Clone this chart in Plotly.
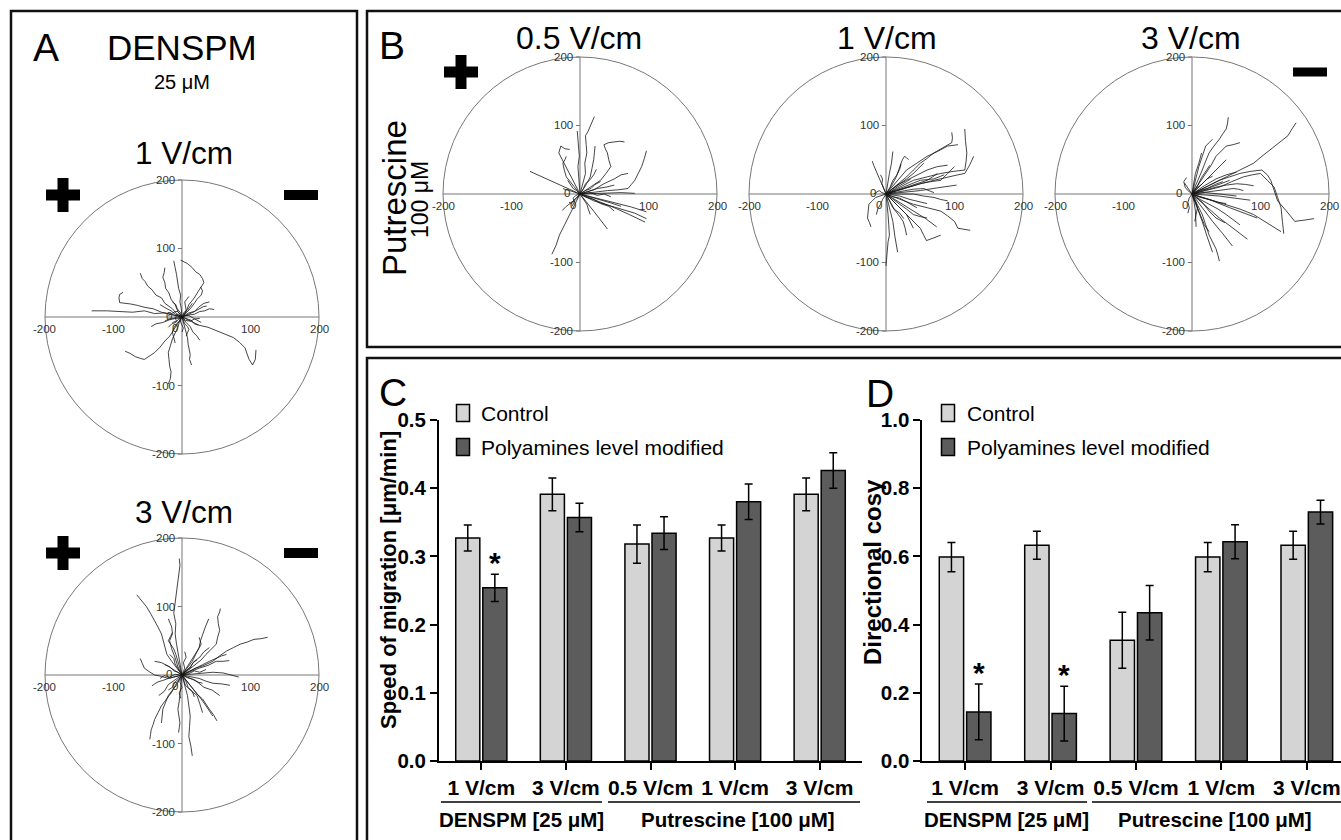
import plotly.graph_objects as go

W, H = 1341, 840

# ---------------- data ----------------
# Cell trajectories (µm), each a list of (x, y) points starting at the origin
A1_tracks = [
    [(0, 0), (-12, 3), (-25, 6), (-40, 5), (-55, 9), (-72, 7), (-90, 8), (-110, 9), (-132, 9)],
    [(0, 0), (-15, 4), (-30, 7), (-42, 12), (-54, 14), (-65, 17), (-75, 19), (-91, 21), (-92, 28), (-91, 33), (-86, 36)],
    [(0, 0), (-8, 5), (-14, 12), (-25, 20), (-30, 28), (-38, 32), (-44, 40), (-50, 45), (-54, 52), (-58, 56), (-61, 64)],
    [(0, 0), (-6, 8), (-10, 18), (-16, 26), (-19, 35), (-24, 42), (-25, 50), (-28, 58), (-26, 65), (-25, 72)],
    [(0, 0), (-1, 12), (-3, 22), (-2, 32), (-5, 42), (-6, 52), (-8, 62), (-10, 72), (-12, 82)],
    [(0, 0), (6, 8), (10, 18), (18, 28), (24, 38), (28, 44), (32, 50), (30, 56), (26, 62), (20, 66), (15, 72), (8, 78), (-2, 83)],
    [(0, 0), (6, 6), (12, 12), (18, 20), (22, 26), (28, 32), (30, 38), (27, 44)],
    [(0, 0), (10, 3), (18, 4), (26, 8), (33, 9), (40, 12), (47, 11)],
    [(0, 0), (12, -6), (25, -12), (38, -15), (50, -20), (62, -24), (75, -30), (84, -37), (92, -45), (95, -54), (98, -62), (103, -70), (107, -62), (108, -48)],
    [(0, 0), (-6, -10), (-12, -18), (-18, -28), (-25, -35), (-32, -44), (-40, -52), (-48, -58), (-55, -62), (-62, -60), (-68, -58), (-76, -53), (-83, -50)],
    [(0, 0), (-4, -8), (-6, -15), (-10, -24), (-14, -32), (-17, -42), (-20, -52), (-19, -62), (-18, -72), (-16, -80), (-17, -90), (-20, -98)],
    [(0, 0), (3, -10), (5, -20), (8, -30), (9, -40), (11, -48), (12, -55), (11, -62), (14, -70)],
    [(0, 0), (6, -8), (12, -14), (16, -22), (22, -28), (26, -34)],
    [(0, 0), (-10, -2), (-18, -4), (-28, -8), (-38, -10), (-45, -14)],
    [(0, 0), (-5, 3), (-10, 4), (-16, 9), (-22, 12), (-28, 16), (-32, 18)],
    [(0, 0), (-4, -6), (-8, -10), (-12, -16), (-14, -22), (-12, -30), (-10, -38)],
    [(0, 0), (5, 2), (10, 2), (15, -1), (20, -4), (28, -8)],
    [(0, 0), (-3, 5), (-6, 8), (-10, 8), (-14, 6), (-20, 2)],
    [(0, 0), (2, -5), (4, -10), (8, -14), (10, -18), (8, -23), (6, -28)],
    [(0, 0), (4, 5), (6, 10), (5, 16), (4, 22), (7, 26), (10, 30)],
    [(0, 0), (8, 3), (14, 6), (20, 9), (26, 12), (31, 15), (36, 16)],
    [(0, 0), (-5, -3), (-9, -8), (-15, -10), (-20, -15)],
    [(0, 0), (7, -3), (14, -5), (18, -10), (24, -12)],
    [(0, 0), (3, 7), (8, 10), (12, 16), (15, 20)],
    [(0, 0), (-3, -4), (-1, -10), (2, -16), (0, -22)],
    [(0, 0), (-7, 2), (-12, -2), (-18, -2), (-25, -6)],
    [(0, 0), (5, -5), (12, -6), (18, -3), (26, -2)],
    [(0, 0), (-2, 6), (-7, 12), (-9, 18), (-14, 22)],
    [(0, 0), (10, 6), (18, 8), (25, 15), (32, 20), (40, 22)],
    [(0, 0), (-4, -2), (-10, -1), (-8, -6), (-14, -8)],
]

A2_tracks = [
    [(0, 0), (-3, 15), (-6, 30), (-8, 45), (-10, 60), (-9, 75), (-12, 90), (-10, 105), (-8, 120), (-6, 135), (-5, 150), (-3, 160), (-4, 170)],
    [(0, 0), (-8, 10), (-15, 20), (-22, 30), (-25, 40), (-28, 50), (-30, 60), (-35, 70), (-40, 80), (-46, 90), (-52, 100), (-60, 110), (-66, 117)],
    [(0, 0), (-6, 12), (-10, 25), (-15, 38), (-18, 50), (-14, 60), (-15, 70), (-18, 76), (-20, 82)],
    [(0, 0), (-3, 10), (-5, 20), (-9, 30), (-12, 38), (-16, 44), (-20, 50), (-17, 56), (-14, 62)],
    [(0, 0), (10, 8), (20, 15), (28, 22), (35, 30), (43, 38), (50, 45), (52, 55), (55, 65), (53, 75), (52, 85), (55, 92), (56, 97)],
    [(0, 0), (8, 10), (15, 20), (20, 30), (25, 40), (27, 50), (30, 60), (34, 70), (39, 82)],
    [(0, 0), (10, 5), (20, 10), (32, 14), (45, 20), (55, 28), (65, 35), (75, 40), (85, 45), (95, 48), (105, 52), (115, 53), (125, 55)],
    [(0, 0), (12, 5), (25, 10), (38, 14), (50, 20), (60, 20), (69, 21)],
    [(0, 0), (15, 1), (30, 2), (45, 4), (60, 3), (72, 0), (83, -3)],
    [(0, 0), (12, -2), (25, -5), (35, -9), (45, -12), (58, -13), (70, -15)],
    [(0, 0), (8, -10), (15, -20), (22, -28), (30, -35), (35, -43), (40, -50), (46, -58), (51, -67)],
    [(0, 0), (4, -15), (8, -30), (10, -45), (12, -60), (11, -75), (10, -90), (13, -104), (15, -118)],
    [(0, 0), (-1, -12), (-2, -25), (-4, -38), (-6, -50), (-4, -60), (-3, -70), (-4, -77), (-5, -84)],
    [(0, 0), (-8, -12), (-15, -25), (-22, -35), (-30, -45), (-35, -55), (-40, -65), (-42, -72), (-45, -80), (-46, -87), (-47, -94)],
    [(0, 0), (-10, -3), (-20, -5), (-30, -2), (-40, 0), (-48, 5), (-55, 10), (-58, 17), (-61, 24)],
    [(0, 0), (-10, -2), (-20, -5), (-28, -8), (-35, -10), (-40, -13), (-44, -16)],
    [(0, 0), (-8, 5), (-15, 10), (-22, 14), (-30, 18), (-35, 19), (-40, 20)],
    [(0, 0), (10, -12), (20, -25), (28, -35), (35, -45), (40, -52), (45, -60)],
    [(0, 0), (5, 8), (10, 15), (15, 22), (20, 30), (24, 38), (28, 45), (26, 50), (25, 55)],
    [(0, 0), (-4, -8), (-8, -15), (-14, -22), (-20, -30), (-24, -40), (-28, -50), (-29, -60), (-30, -70)],
    [(0, 0), (15, 8), (30, 15), (40, 20), (50, 25), (58, 28), (65, 30)],
    [(0, 0), (3, -8), (5, -15), (12, -22), (22, -30), (26, -42), (30, -55)],
    [(0, 0), (-6, 4), (-12, 6), (-18, 12), (-25, 15)],
    [(0, 0), (6, 6), (12, 10), (16, 18), (22, 22)],
    [(0, 0), (-5, -6), (-10, -10), (-14, -18), (-20, -22)],
    [(0, 0), (8, -4), (15, -6), (22, -10), (30, -12)],
    [(0, 0), (4, 10), (2, 18), (6, 26), (4, 34)],
    [(0, 0), (-3, -10), (0, -18), (-4, -26), (-2, -34)],
    [(0, 0), (10, 2), (18, 6), (26, 4), (35, 8)],
    [(0, 0), (-10, 1), (-18, -3), (-26, -1), (-32, -5)],
    [(0, 0), (6, -10), (9, -18), (15, -24), (18, -32)],
    [(0, 0), (-6, 10), (-10, 16), (-12, 24), (-18, 30)],
    [(0, 0), (12, 12), (18, 20), (26, 26), (32, 34), (40, 40)],
    [(0, 0), (-12, -8), (-20, -14), (-26, -24), (-34, -30)],
    [(0, 0), (20, -8), (32, -18), (44, -22), (55, -30)],
]

B1_tracks = [
    [(0, 0), (4, 15), (8, 30), (7, 45), (10, 60), (9, 72), (8, 85), (12, 92), (15, 100), (18, 107), (21, 113)],
    [(0, 0), (-2, 20), (-3, 40), (-1, 55), (-2, 70), (-3, 82), (-4, 92)],
    [(0, 0), (-5, 10), (-10, 20), (-15, 30), (-20, 40), (-26, 50), (-31, 60), (-28, 70), (-22, 66), (-15, 65)],
    [(0, 0), (-73, 33)],
    [(0, 0), (15, 10), (30, 20), (38, 30), (45, 40), (42, 50), (40, 60), (37, 66), (35, 72), (42, 75), (50, 76), (58, 77), (65, 76)],
    [(0, 0), (20, 3), (40, 5), (55, 6), (70, 8), (75, 14), (80, 20), (85, 30), (90, 40), (94, 52), (97, 63)],
    [(0, 0), (25, -6), (50, -12), (75, -19), (97, -26)],
    [(0, 0), (25, -10), (50, -20), (72, -30), (95, -41)],
    [(0, 0), (10, -12), (20, -25), (30, -38), (40, -51)],
    [(0, 0), (-5, -10), (-10, -20), (-14, -30), (-20, -40), (-25, -50), (-30, -60), (-35, -75), (-41, -88)],
    [(0, 0), (-6, -6), (-12, -12), (-20, -18), (-26, -24)],
    [(0, 0), (12, 4), (25, 8), (38, 10), (50, 13)],
    [(0, 0), (20, 1), (40, 2), (60, 2), (80, 1)],
    [(0, 0), (-10, 12), (-20, 25), (-23, 35), (-25, 45), (-22, 50), (-20, 55)],
    [(0, 0), (8, 12), (15, 25), (18, 38), (20, 50), (21, 60), (22, 70)],
    [(0, 0), (15, -4), (30, -8), (45, -13), (60, -18)],
    [(0, 0), (-8, 3), (-15, 5), (-20, 6), (-25, 8)],
    [(0, 0), (5, -8), (10, -15), (12, -22), (15, -30)],
    [(0, 0), (20, -10), (40, -16), (60, -22), (80, -28), (97, -36)],
    [(0, 0), (20, 6), (35, 15), (50, 22), (60, 28), (70, 30)],
    [(0, 0), (10, -5), (20, -8), (30, -14), (42, -18), (50, -25)],
    [(0, 0), (-5, 5), (-10, 8), (-14, 14), (-18, 20)],
    [(0, 0), (5, 8), (8, 15), (14, 20), (20, 28), (24, 36)],
    [(0, 0), (-4, -6), (-8, -10), (-12, -14), (-16, -12)],
    [(0, 0), (15, 2), (25, -2), (35, 0), (45, -4)],
    [(0, 0), (8, 5), (16, 8), (22, 14), (30, 18)],
    [(0, 0), (-6, -2), (-10, -6), (-8, -12), (-12, -18)],
]

B2_tracks = [
    [(0, 0), (15, 12), (30, 25), (40, 35), (50, 45), (60, 52), (70, 60), (82, 67), (96, 75), (97, 82), (96, 90)],
    [(0, 0), (20, 10), (40, 20), (60, 25), (80, 30), (98, 33), (115, 35), (117, 48), (118, 60), (116, 78), (115, 95)],
    [(0, 0), (25, 8), (50, 15), (70, 20), (90, 25), (105, 28), (115, 30), (122, 42), (128, 55)],
    [(0, 0), (15, 18), (30, 35), (45, 45), (60, 55), (75, 62), (90, 70), (98, 71), (105, 72)],
    [(0, 0), (8, 12), (15, 25), (18, 35), (22, 45), (24, 50), (27, 55), (30, 53), (33, 50)],
    [(0, 0), (2, 15), (5, 30), (8, 45), (10, 62)],
    [(0, 0), (-4, 10), (-8, 20), (-12, 28), (-15, 35), (-18, 42), (-20, 48)],
    [(0, 0), (-8, -3), (-15, -5), (-20, -10), (-25, -15), (-26, -25), (-27, -35), (-24, -42), (-22, -48)],
    [(0, 0), (2, -15), (3, -30), (4, -45), (5, -60), (3, -70), (2, -80), (1, -92), (0, -105)],
    [(0, 0), (5, -20), (10, -40), (13, -62), (17, -85)],
    [(0, 0), (20, -8), (40, -15), (60, -20), (80, -25), (90, -32), (100, -40), (105, -50), (115, -52), (123, -53)],
    [(0, 0), (15, -15), (30, -30), (40, -40), (50, -50), (55, -60), (59, -68), (70, -64), (80, -60)],
    [(0, 0), (20, -12), (40, -25), (58, -36), (74, -48)],
    [(0, 0), (25, 2), (50, 5), (75, 9), (103, 13)],
    [(0, 0), (25, 8), (50, 15), (65, 18), (80, 20), (90, 30), (100, 40)],
    [(0, 0), (20, 0), (40, 0), (55, -3), (70, -5), (80, -8), (90, -10)],
    [(0, 0), (15, 5), (30, 10), (45, 15), (60, 20), (68, 25), (75, 30)],
    [(0, 0), (10, -8), (20, -15), (30, -22), (40, -30), (50, -33), (60, -35)],
    [(0, 0), (12, 2), (25, 5), (40, 7), (55, 8), (62, 5), (70, 2)],
    [(0, 0), (5, -10), (10, -20), (18, -30), (25, -40), (28, -50), (30, -60)],
    [(0, 0), (10, 8), (20, 15), (30, 22), (40, 30), (48, 38), (55, 45)],
    [(0, 0), (15, 12), (30, 20), (45, 28), (60, 35), (75, 40), (90, 42)],
    [(0, 0), (-3, 8), (-6, 15), (-5, 22), (-8, 28)],
    [(0, 0), (-5, -8), (-8, -15), (-12, -22), (-14, -30)],
    [(0, 0), (10, -4), (20, -6), (30, -12), (38, -16), (45, -20)],
    [(0, 0), (8, 4), (16, 10), (24, 14), (30, 18), (36, 22)],
    [(0, 0), (20, -3), (35, -8), (50, -12), (60, -14)],
    [(0, 0), (6, 10), (10, 20), (16, 28), (20, 36), (22, 44)],
    [(0, 0), (20, -20), (30, -30), (35, -40), (40, -50)],
    [(0, 0), (30, 12), (50, 20), (70, 22), (85, 28)],
    [(0, 0), (-6, 2), (-10, 5), (-14, 2), (-18, 0)],
    [(0, 0), (8, -14), (12, -22), (20, -28), (26, -36)],
]

B3_tracks = [
    [(0, 0), (8, 18), (15, 35), (20, 48), (25, 60), (32, 70), (40, 80), (45, 88), (50, 95), (52, 104), (53, 112)],
    [(0, 0), (10, 15), (20, 30), (28, 42), (35, 55), (42, 62), (50, 70), (60, 72), (70, 75)],
    [(0, 0), (25, 12), (50, 25), (70, 35), (90, 45), (102, 55), (115, 65), (128, 75), (140, 85), (146, 95), (152, 104)],
    [(0, 0), (20, 10), (40, 20), (55, 25), (70, 30), (85, 33), (102, 35), (110, 28), (115, 20), (120, 5), (125, -10), (138, -25), (150, -40), (165, -38), (178, -36)],
    [(0, 0), (20, 5), (40, 10), (58, 18), (75, 25), (88, 28), (100, 30), (110, 20), (120, 10), (125, -5), (130, -20), (132, -40), (134, -58)],
    [(0, 0), (15, 5), (30, 10), (42, 15), (55, 20)],
    [(0, 0), (8, -15), (15, -30), (20, -45), (25, -60), (30, -70), (35, -80), (38, -90), (40, -98)],
    [(0, 0), (15, -20), (30, -40), (45, -58), (59, -76)],
    [(0, 0), (20, -18), (40, -35), (60, -50), (81, -66)],
    [(0, 0), (8, -20), (15, -40), (22, -62), (30, -85)],
    [(0, 0), (3, -12), (5, -25), (5, -36), (6, -48)],
    [(0, 0), (-5, 8), (-11, 16)],
    [(0, 0), (2, 15), (5, 30), (10, 45), (14, 60)],
    [(0, 0), (20, -1), (40, -3), (62, -6), (85, -9)],
    [(0, 0), (15, 2), (30, 5), (45, 7), (60, 8), (68, 7), (75, 5)],
    [(0, 0), (25, -8), (50, -15), (70, -22), (90, -30), (110, -42), (130, -55)],
    [(0, 0), (10, 10), (20, 20), (30, 30), (40, 40), (45, 45), (50, 50)],
    [(0, 0), (12, -8), (25, -15), (38, -22), (50, -30), (60, -38), (70, -45)],
    [(0, 0), (5, 20), (10, 40), (15, 55), (20, 70), (25, 75), (30, 80)],
    [(0, 0), (18, 5), (35, 10), (50, 13), (65, 15), (78, 14), (90, 12)],
    [(0, 0), (-6, 5), (-10, 10), (-12, 18), (-8, 24)],
    [(0, 0), (5, -10), (8, -20), (6, -30), (4, -40)],
    [(0, 0), (12, -5), (25, -8), (38, -12), (50, -14)],
    [(0, 0), (10, 5), (22, 8), (34, 14), (45, 18)],
    [(0, 0), (8, 12), (14, 24), (20, 34), (26, 42)],
    [(0, 0), (15, -12), (25, -25), (35, -35), (48, -42)],
    [(0, 0), (20, 2), (40, 0), (55, -2), (65, -3)],
    [(0, 0), (-4, -6), (-6, -12), (-4, -20), (-6, -28)],
    [(0, 0), (6, 8), (14, 14), (22, 22), (30, 26)],
    [(0, 0), (30, -10), (55, -20), (75, -28), (95, -35)],
    [(0, 0), (18, 12), (35, 22), (50, 28), (65, 32)],
    [(0, 0), (10, -25), (18, -45), (25, -55)],
]

circle_ticks = [-200, -100, 100, 200]

# Bar charts
categories = ["1 V/cm", "3 V/cm", "0.5 V/cm", "1 V/cm", "3 V/cm"]
groups = ["DENSPM [25 \u03bcM]", "Putrescine [100 \u03bcM]"]
legend_labels = ["Control", "Polyamines level modified"]

speed_control = [0.327, 0.391, 0.318, 0.327, 0.391]
speed_control_err = [0.019, 0.024, 0.028, 0.019, 0.024]
speed_modified = [0.254, 0.357, 0.334, 0.380, 0.426]
speed_modified_err = [0.020, 0.021, 0.024, 0.026, 0.026]
speed_signif = [True, False, False, False, False]

cos_control = [0.598, 0.633, 0.354, 0.598, 0.633]
cos_control_err = [0.043, 0.041, 0.082, 0.043, 0.041]
cos_modified = [0.144, 0.139, 0.435, 0.643, 0.730]
cos_modified_err = [0.082, 0.080, 0.080, 0.050, 0.035]
cos_signif = [True, True, False, False, False]

# ---------------- helpers ----------------
def PX(x):
    return x / W

def PY(y):
    return 1 - y / H

FONT = "Liberation Sans, Arial, sans-serif"
LINE_C = "#151515"
GRID_C = "#777777"
TICK_C = "#333333"

fig = go.Figure()
layout = dict(width=W, height=H,
              margin=dict(l=0, r=0, t=0, b=0, pad=0, autoexpand=False),
              paper_bgcolor="white", plot_bgcolor="white", showlegend=False,
              barmode="group", bargap=0.36, bargroupgap=0.11)
shapes = []
annotations = []

R_PX = 137.0
HALF = 210.0
scale = R_PX / 200.0

circle_plots = [
    (A1_tracks, 182, 317),
    (A2_tracks, 182, 675),
    (B1_tracks, 580, 194),
    (B2_tracks, 886, 194),
    (B3_tracks, 1192, 194),
]

for i, (tracks, cx, cy) in enumerate(circle_plots, start=1):
    xa = "xaxis" if i == 1 else f"xaxis{i}"
    ya = "yaxis" if i == 1 else f"yaxis{i}"
    xr = "x" if i == 1 else f"x{i}"
    yr = "y" if i == 1 else f"y{i}"
    hw = HALF * scale
    layout[xa] = dict(domain=[PX(cx - hw), PX(cx + hw)], range=[-HALF, HALF],
                      visible=False, anchor=yr, fixedrange=True)
    layout[ya] = dict(domain=[PY(cy + hw), PY(cy - hw)], range=[-HALF, HALF],
                      visible=False, anchor=xr, fixedrange=True)
    xs, ys = [], []
    for t in tracks:
        for (px_, py_) in t:
            xs.append(px_)
            ys.append(py_)
        xs.append(None)
        ys.append(None)
    fig.add_trace(go.Scatter(x=xs, y=ys, mode="lines", xaxis=xr, yaxis=yr,
                             line=dict(color=LINE_C, width=0.8), hoverinfo="skip"))
    shapes.append(dict(type="circle", xref=xr, yref=yr, x0=-200, y0=-200, x1=200, y1=200,
                       line=dict(color=GRID_C, width=1), layer="below"))
    shapes.append(dict(type="line", xref=xr, yref=yr, x0=-200, y0=0, x1=200, y1=0,
                       line=dict(color=GRID_C, width=1), layer="below"))
    shapes.append(dict(type="line", xref=xr, yref=yr, x0=0, y0=-200, x1=0, y1=200,
                       line=dict(color=GRID_C, width=1), layer="below"))
    for v in circle_ticks:
        shapes.append(dict(type="line", xref=xr, yref=yr, x0=-6, y0=v, x1=0, y1=v,
                           line=dict(color=GRID_C, width=1), layer="below"))
        annotations.append(dict(xref=xr, yref=yr, x=-7, y=v, text=str(v), showarrow=False,
                                xanchor="right", yanchor="middle",
                                font=dict(family=FONT, size=11.5, color=TICK_C)))
        annotations.append(dict(xref=xr, yref=yr, x=v, y=-6, text=str(v), showarrow=False,
                                xanchor="center", yanchor="top",
                                font=dict(family=FONT, size=11.5, color=TICK_C)))
    annotations.append(dict(xref=xr, yref=yr, x=-12, y=2, text="0", showarrow=False,
                            xanchor="right", yanchor="middle",
                            font=dict(family=FONT, size=11.5, color=TICK_C)))
    annotations.append(dict(xref=xr, yref=yr, x=-3, y=-5, text="0", showarrow=False,
                            xanchor="right", yanchor="top",
                            font=dict(family=FONT, size=11.5, color=TICK_C)))

# ---------------- bar charts ----------------
xpos = list(range(len(categories)))
CTRL_COL = "#d4d4d4"
MOD_COL = "#5c5c5c"

def bar_axes(idx, xdom, ydom, xrange_, yrange, dtick):
    xa, ya = f"xaxis{idx}", f"yaxis{idx}"
    layout[xa] = dict(domain=xdom, range=xrange_, anchor=f"y{idx}",
                      tickmode="array", tickvals=xpos, ticktext=categories,
                      showline=True, linecolor="black", linewidth=2,
                      ticks="outside", ticklen=7, tickwidth=2, tickcolor="black",
                      showgrid=False, zeroline=False, fixedrange=True, automargin=False,
                      tickfont=dict(family=FONT, size=21, color="black", weight="bold"))
    layout[ya] = dict(domain=ydom, range=yrange, anchor=f"x{idx}", dtick=dtick,
                      tickformat=".1f", showline=True, linecolor="black", linewidth=2,
                      ticks="outside", ticklen=7, tickwidth=2, tickcolor="black",
                      showgrid=False, zeroline=False, fixedrange=True, automargin=False,
                      tickfont=dict(family=FONT, size=20.5, color="black", weight="bold"))

bar_axes(6, [PX(439), PX(862)], [PY(761), PY(420)], [-0.5, 4.5], [0, 0.5], 0.1)
bar_axes(7, [PX(922.4), 1.0], [PY(761), PY(420)], [-0.5, 4.4], [0, 1.0], 0.2)

for idx, ctrl, ce, mod, me, sig in [
    (6, speed_control, speed_control_err, speed_modified, speed_modified_err, speed_signif),
    (7, cos_control, cos_control_err, cos_modified, cos_modified_err, cos_signif),
]:
    for vals, errs, col, nm in [(ctrl, ce, CTRL_COL, legend_labels[0]),
                                (mod, me, MOD_COL, legend_labels[1])]:
        fig.add_trace(go.Bar(x=xpos, y=vals, name=nm, xaxis=f"x{idx}", yaxis=f"y{idx}",
                             marker=dict(color=col, line=dict(color="black", width=1.5)),
                             error_y=dict(type="data", array=errs, color="black",
                                          thickness=1.5, width=4),
                             hoverinfo="skip"))
    off = (1 - 0.36) / 4
    for k, s in enumerate(sig):
        if s:
            annotations.append(dict(xref=f"x{idx}", yref=f"y{idx}", x=xpos[k] + off,
                                    y=mod[k] + me[k], text="*", showarrow=False,
                                    xanchor="center", yanchor="bottom", yshift=-7,
                                    font=dict(family=FONT, size=30, color="black", weight="bold")))

# legends (manual swatches)
for bx, tx in [(463, 479), (948, 965)]:
    for k, (lab, col) in enumerate(zip(legend_labels, [CTRL_COL, MOD_COL])):
        yc = 413 + 34 * k
        shapes.append(dict(type="rect", xref="paper", yref="paper",
                           x0=PX(bx - 6.5), x1=PX(bx + 6.5), y0=PY(yc + 8.5), y1=PY(yc - 8.5),
                           fillcolor=col, line=dict(color="black", width=1.5)))
        annotations.append(dict(xref="paper", yref="paper", x=PX(tx), y=PY(yc), text=lab,
                                showarrow=False, xanchor="left", yanchor="middle",
                                font=dict(family=FONT, size=21, color="black")))

# group lines and labels
for (x0, x1, xc, lab) in [(441, 602, 521, groups[0]), (608, 860, 738, groups[1]),
                          (927, 1087, 1006, groups[0]), (1092, 1345, 1215, groups[1])]:
    shapes.append(dict(type="line", xref="paper", yref="paper", x0=PX(x0), x1=PX(x1),
                       y0=PY(802), y1=PY(802), line=dict(color="black", width=1.5)))
    annotations.append(dict(xref="paper", yref="paper", x=PX(xc), y=PY(819), text=lab,
                            showarrow=False, xanchor="center", yanchor="middle",
                            font=dict(family=FONT, size=20.5, color="black", weight="bold")))

# y titles
annotations.append(dict(xref="paper", yref="paper", x=PX(388), y=PY(580),
                        text="Speed of migration [\u03bcm/min]", textangle=-90, showarrow=False,
                        xanchor="center", yanchor="middle",
                        font=dict(family=FONT, size=22, color="black", weight="bold")))
annotations.append(dict(xref="paper", yref="paper", x=PX(872), y=PY(572),
                        text="Directional cos\u03b3", textangle=-90, showarrow=False,
                        xanchor="center", yanchor="middle",
                        font=dict(family=FONT, size=24, color="black", weight="bold")))

# ---------------- text labels ----------------
def txt(x, y, s, size, angle=0, weight="normal", anchor="center"):
    annotations.append(dict(xref="paper", yref="paper", x=PX(x), y=PY(y), text=s,
                            showarrow=False, xanchor=anchor, yanchor="middle", textangle=angle,
                            font=dict(family=FONT, size=size, color="black", weight=weight)))

txt(46, 47, "A", 39)
txt(182, 47, "DENSPM", 35)
txt(182, 82, "25 \u03bcM", 20)
txt(184, 153, "1 V/cm", 31.5)
txt(184, 512, "3 V/cm", 31.5)
txt(392, 45, "B", 39)
txt(579, 38, "0.5 V/cm", 32)
txt(887, 38, "1 V/cm", 32)
txt(1191, 38, "3 V/cm", 32)
txt(394, 198, "Putrescine", 33, angle=-90)
txt(420, 200, "100 \u03bcM", 23, angle=-90)
txt(393, 392, "C", 39)
txt(880, 393, "D", 39)

# plus / minus signs
def plus(cx, cy, size=34, th=11):
    shapes.append(dict(type="rect", xref="paper", yref="paper", x0=PX(cx - size / 2), x1=PX(cx + size / 2),
                       y0=PY(cy + th / 2), y1=PY(cy - th / 2), fillcolor="black", line=dict(width=0)))
    shapes.append(dict(type="rect", xref="paper", yref="paper", x0=PX(cx - th / 2), x1=PX(cx + th / 2),
                       y0=PY(cy + size / 2), y1=PY(cy - size / 2), fillcolor="black", line=dict(width=0)))

def minus(cx, cy, size=34, th=10):
    shapes.append(dict(type="rect", xref="paper", yref="paper", x0=PX(cx - size / 2), x1=PX(cx + size / 2),
                       y0=PY(cy + th / 2), y1=PY(cy - th / 2), fillcolor="black", line=dict(width=0)))

plus(63, 195)
minus(301, 195)
plus(63, 553)
minus(301, 553)
plus(461, 72)
minus(1310, 72, th=9)

# panel frames
for (x0, y0, x1, y1) in [(11, 11, 357, 848), (367, 11, 1348, 347), (367, 358, 1348, 848)]:
    shapes.append(dict(type="rect", xref="paper", yref="paper", x0=PX(x0), x1=PX(x1),
                       y0=PY(y1), y1=PY(y0), line=dict(color="#111", width=2.5)))

layout["shapes"] = shapes
layout["annotations"] = annotations
fig.update_layout(**layout)
fig.write_html("out.html", config={"displayModeBar": False, "staticPlot": True},
               post_script="document.body.style.margin='0px';document.body.style.overflow='hidden';")
